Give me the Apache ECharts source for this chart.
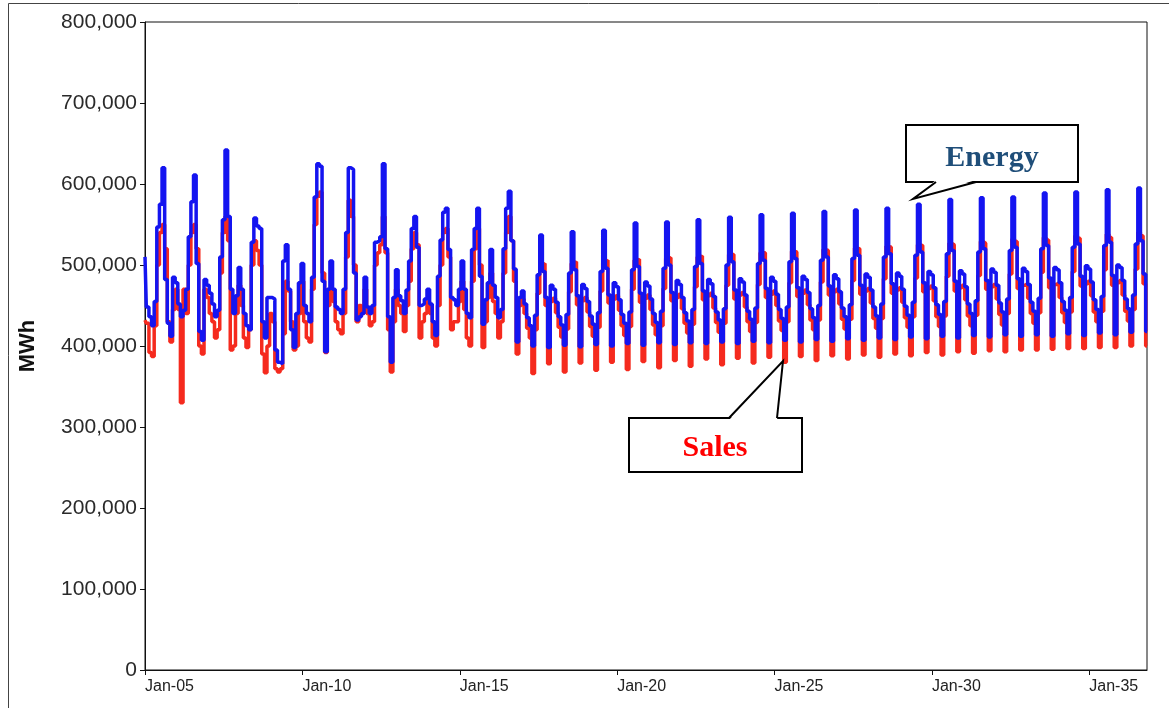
<!DOCTYPE html>
<html>
<head>
<meta charset="utf-8">
<script src="https://cdn.jsdelivr.net/npm/echarts@6/dist/echarts.min.js"></script>
<style>
html,body{margin:0;padding:0;background:#fff;}
#chart{width:1169px;height:708px;}
</style>
</head>
<body>
<div id="chart"></div>
<script>
// Monthly values, Jan 2005 .. Nov 2036 (MWh)
const energy = [
  510000,448000,436000,425000,455000,547000,575000,620000,482000,428000,412000,485000, // 2005
  478000,452000,436000,444000,470000,535000,578000,611000,502000,418000,407000,482000, // 2006
  475000,465000,452000,436000,444000,510000,556000,642000,560000,470000,440000,462000, // 2007
  497000,470000,440000,425000,420000,528000,558000,548000,545000,430000,410000,460000, // 2008
  460000,458000,395000,380000,378000,505000,525000,470000,420000,398000,440000,478000, // 2009
  502000,450000,440000,430000,485000,584000,625000,622000,480000,393000,470000,505000, // 2010
  470000,448000,445000,440000,470000,540000,620000,618000,490000,432000,436000,440000, // 2011
  485000,448000,440000,450000,528000,530000,535000,625000,520000,436000,380000,460000, // 2012
  494000,462000,456000,440000,469000,505000,545000,560000,522000,450000,452000,458000, // 2013
  470000,452000,430000,413000,486000,531000,565000,570000,519000,460000,457000,450000, // 2014
  470000,505000,470000,440000,435000,519000,545000,570000,486000,427000,457000,478000, // 2015
  519000,475000,460000,435000,445000,520000,570000,591000,530000,495000,405000,460000, // 2016
  468000,452000,435000,425000,400000,438000,488000,537000,492000,460000,398000,475000, // 2017
  470000,454000,436000,426000,401000,439000,490000,541000,494000,462000,399000,476000, // 2018
  471000,455000,437000,427000,402000,441000,492000,543000,496000,463000,400000,478000, // 2019
  473000,457000,439000,428000,403000,442000,494000,552000,498000,465000,401000,479000, // 2020
  474000,458000,440000,429000,404000,443000,496000,553000,500000,466000,402000,481000, // 2021
  476000,460000,441000,431000,404000,445000,498000,556000,502000,468000,403000,482000, // 2022
  477000,461000,442000,432000,405000,446000,500000,559000,504000,469000,403000,483000, // 2023
  479000,463000,443000,433000,406000,447000,502000,562000,506000,471000,404000,485000, // 2024
  480000,464000,445000,434000,407000,448000,504000,564000,508000,472000,405000,486000, // 2025
  482000,466000,446000,435000,408000,450000,506000,566000,510000,474000,406000,488000, // 2026
  483000,467000,447000,436000,409000,451000,508000,568000,512000,475000,407000,489000, // 2027
  485000,469000,448000,437000,410000,452000,510000,570000,514000,477000,408000,490000, // 2028
  486000,470000,449000,438000,411000,454000,512000,575000,516000,478000,409000,492000, // 2029
  488000,472000,451000,439000,412000,455000,514000,581000,518000,480000,410000,493000, // 2030
  489000,473000,452000,440000,413000,456000,516000,583000,520000,481000,411000,495000, // 2031
  491000,475000,453000,442000,414000,458000,518000,584000,522000,483000,412000,496000, // 2032
  492000,476000,454000,443000,414000,459000,520000,589000,524000,484000,412000,497000, // 2033
  494000,478000,455000,444000,415000,460000,522000,590000,526000,486000,413000,499000, // 2034
  495000,479000,457000,445000,416000,461000,524000,593000,528000,487000,414000,500000, // 2035
  497000,481000,458000,446000,417000,463000,526000,595000,530000,489000,418000          // 2036
];
const sales = [
  432000,428000,392000,387000,425000,500000,540000,550000,520000,430000,405000,445000, // 2005
  470000,445000,330000,470000,440000,500000,540000,550000,520000,400000,390000,470000, // 2006
  460000,440000,430000,410000,420000,490000,540000,560000,530000,395000,400000,440000, // 2007
  475000,450000,410000,398000,420000,500000,530000,518000,500000,390000,367000,400000, // 2008
  440000,430000,372000,368000,372000,415000,480000,468000,430000,395000,400000,440000, // 2009
  480000,430000,410000,405000,470000,550000,585000,590000,490000,392000,450000,470000, // 2010
  455000,430000,420000,415000,440000,510000,580000,560000,500000,430000,450000,440000, // 2011
  470000,440000,425000,430000,500000,515000,525000,560000,515000,420000,368000,430000, // 2012
  470000,450000,440000,418000,450000,480000,520000,540000,525000,410000,430000,440000, // 2013
  455000,440000,410000,400000,450000,500000,540000,545000,510000,420000,430000,430000, // 2014
  455000,480000,445000,410000,400000,480000,520000,545000,500000,398000,430000,460000, // 2015
  490000,455000,440000,410000,430000,490000,540000,560000,530000,480000,390000,450000, // 2016
  458000,440000,422000,410000,366000,420000,465000,500000,502000,450000,378000,455000, // 2017
  459000,441000,423000,411000,368000,421000,467000,502000,504000,451000,379000,456000, // 2018
  460000,442000,424000,412000,370000,423000,468000,504000,506000,453000,380000,458000, // 2019
  462000,444000,425000,413000,371000,424000,470000,506000,507000,454000,381000,459000, // 2020
  463000,445000,426000,414000,373000,425000,471000,508000,509000,456000,382000,460000, // 2021
  464000,446000,428000,416000,375000,427000,473000,510000,511000,457000,384000,462000, // 2022
  465000,447000,429000,417000,377000,428000,475000,513000,513000,458000,385000,463000, // 2023
  466000,448000,430000,418000,379000,429000,476000,515000,515000,460000,386000,464000, // 2024
  468000,450000,431000,419000,380000,430000,478000,517000,516000,461000,387000,465000, // 2025
  469000,451000,432000,420000,382000,432000,479000,519000,518000,463000,388000,467000, // 2026
  470000,452000,433000,421000,384000,433000,481000,521000,520000,464000,389000,468000, // 2027
  471000,453000,434000,422000,386000,434000,483000,523000,522000,465000,390000,469000, // 2028
  472000,454000,435000,423000,388000,436000,484000,525000,524000,467000,392000,471000, // 2029
  474000,456000,436000,424000,389000,437000,486000,527000,525000,468000,393000,472000, // 2030
  475000,457000,437000,425000,391000,438000,487000,529000,527000,470000,394000,473000, // 2031
  476000,458000,439000,426000,393000,440000,489000,532000,529000,471000,395000,475000, // 2032
  477000,459000,440000,428000,395000,441000,491000,534000,531000,472000,396000,476000, // 2033
  478000,460000,441000,429000,397000,442000,492000,536000,533000,474000,397000,477000, // 2034
  480000,462000,442000,430000,398000,443000,494000,538000,534000,475000,398000,478000, // 2035
  481000,463000,443000,431000,400000,445000,495000,540000,536000,477000,400000          // 2036
];
const monthNames = ['Jan','Feb','Mar','Apr','May','Jun','Jul','Aug','Sep','Oct','Nov','Dec'];
const firstYear = 2005;
const tickLabels = ['Jan-05','Jan-10','Jan-15','Jan-20','Jan-25','Jan-30','Jan-35'];
const yTicks = [0,100000,200000,300000,400000,500000,600000,700000,800000];

const categories = [];
for (let i = 0; i < energy.length; i++) {
  const y = firstYear + Math.floor(i / 12);
  categories.push(monthNames[i % 12] + '-' + String(y % 100).padStart(2, '0'));
}
const showTick = (idx, val) => tickLabels.indexOf(val) >= 0;

const chart = echarts.init(document.getElementById('chart'));
chart.setOption({
  animation: false,
  backgroundColor: '#fff',
  textStyle: { fontFamily: 'Liberation Sans, Arial, sans-serif' },
  grid: { left: 145, top: 22, width: 1002, height: 648, show: true, borderColor: '#111', borderWidth: 1, backgroundColor: 'transparent' },
  xAxis: {
    type: 'category',
    data: categories,
    boundaryGap: false,
    axisLine: { lineStyle: { color: '#111', width: 1 } },
    axisTick: { show: true, interval: showTick, length: 5, lineStyle: { color: '#111' } },
    axisLabel: { interval: showTick, align: 'left', margin: 9, fontSize: 16, color: '#222' },
    splitLine: { show: false }
  },
  yAxis: {
    type: 'value',
    min: yTicks[0],
    max: yTicks[yTicks.length - 1],
    interval: 100000,
    name: 'MWh',
    nameLocation: 'middle',
    nameRotate: 90,
    nameGap: 106,
    nameTextStyle: { fontSize: 22, fontWeight: 'bold', color: '#111' },
    axisLine: { show: true, lineStyle: { color: '#111', width: 1 } },
    axisTick: { show: true, length: 5, lineStyle: { color: '#111' } },
    axisLabel: { margin: 8, fontSize: 21, color: '#2a2a2a', formatter: v => v.toLocaleString('en-US') },
    splitLine: { show: false }
  },
  series: [
    { name: 'Sales', type: 'line', data: sales, step: 'middle', showSymbol: false, symbol: 'none',
      lineStyle: { color: '#F52A1E', width: 3.5 }, z: 2 },
    { name: 'Energy', type: 'line', data: energy, step: 'middle', showSymbol: false, symbol: 'none',
      lineStyle: { color: '#1414F0', width: 3.5 }, z: 3 }
  ],
  graphic: [
    { type: 'polyline', z: 50, silent: true, shape: { points: [[8.5, 708], [8.5, 3.5], [1169, 3.5]] }, style: { fill: 'none', stroke: '#444', lineWidth: 1 } },
    // Energy callout
    { type: 'rect', z: 100, shape: { x: 906, y: 125, width: 172, height: 57 }, style: { fill: '#fff', stroke: '#000', lineWidth: 2 } },
    { type: 'polygon', z: 101, shape: { points: [[936, 180], [913, 199], [976, 180]] }, style: { fill: '#fff', stroke: 'none' } },
    { type: 'polyline', z: 102, shape: { points: [[936, 182], [913, 199], [976, 182]] }, style: { stroke: '#000', lineWidth: 2, fill: 'none' } },
    { type: 'text', z: 103, style: { x: 992, y: 158, text: 'Energy', fill: '#1F4E79', font: 'bold 30px "Liberation Serif", "Times New Roman", serif', textAlign: 'center', textVerticalAlign: 'middle' } },
    // Sales callout
    { type: 'rect', z: 100, shape: { x: 629, y: 418, width: 173, height: 54 }, style: { fill: '#fff', stroke: '#000', lineWidth: 2 } },
    { type: 'polygon', z: 101, shape: { points: [[729, 420], [783, 361], [777, 420]] }, style: { fill: '#fff', stroke: 'none' } },
    { type: 'polyline', z: 102, shape: { points: [[729, 418], [783, 361], [777, 418]] }, style: { stroke: '#000', lineWidth: 2, fill: 'none' } },
    { type: 'text', z: 103, style: { x: 715, y: 448, text: 'Sales', fill: '#FF0000', font: 'bold 30px "Liberation Serif", "Times New Roman", serif', textAlign: 'center', textVerticalAlign: 'middle' } }
  ]
});
</script>
</body>
</html>
